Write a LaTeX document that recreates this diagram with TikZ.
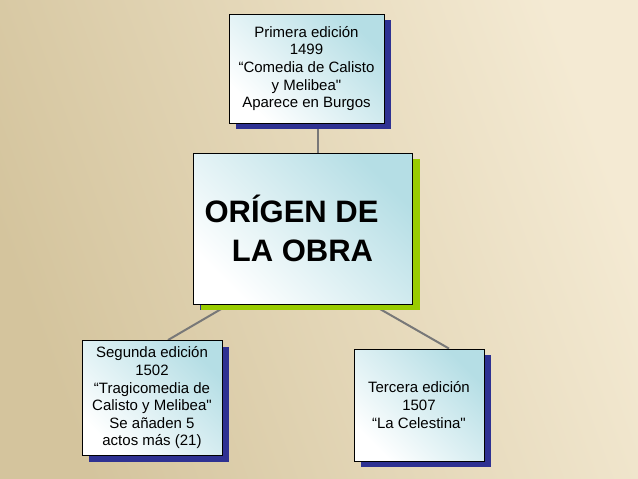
\documentclass[tikz,border=0pt]{standalone}
\usepackage{fontspec}
\setmainfont{Liberation Sans}
\newfontfamily\plainq{Liberation Sans}
\usetikzlibrary{shadows}
\definecolor{bgdark}{HTML}{D4C49D}
\definecolor{bglight}{HTML}{F4EAD3}
\definecolor{boxcyan}{HTML}{B5DEE5}
\definecolor{shblue}{HTML}{2E3192}
\definecolor{shgreen}{HTML}{99CC00}
\definecolor{linegray}{HTML}{787878}
\newcommand{\sq}{{\plainq\char34}}
\pgfdeclarelayer{bg}
\pgfdeclarelayer{lines}
\pgfsetlayers{bg,lines,main}
\begin{document}
\begin{tikzpicture}[x=1pt,y=-1pt,
  edbox/.style={draw=black, line width=0.9pt, top color=boxcyan, bottom color=white,
    shading angle=-45, inner sep=0pt, align=center,
    font=\fontsize{15}{17.6}\selectfont,
    general shadow={fill=shblue, shadow xshift=7pt, shadow yshift=-6pt}},
  mainbox/.style={edbox, font=\fontsize{31}{39}\selectfont\bfseries,
    general shadow={fill=shgreen, shadow xshift=8pt, shadow yshift=-6pt}},
  conn/.style={draw=linegray, line width=2pt}]
\useasboundingbox (0,0) rectangle (638,479);
\begin{pgfonlayer}{bg}
\shade[top color=bglight, bottom color=bgdark, shading angle=-70] (0,0) rectangle (638,479);
\end{pgfonlayer}
\node[edbox, minimum width=155pt, minimum height=109pt] (top) at (306.5,68.5)
  {Primera edición\\1499\\“Comedia de Calisto\\y Melibea\sq\\Aparece en Burgos};
\node[mainbox, minimum width=219pt, minimum height=151pt] (ctr) at (302.5,228.5)
  {\raisebox{-6pt}{ORÍGEN DE\rule{22pt}{0pt}}\\\raisebox{-6pt}{LA OBRA}};
\node[edbox, minimum width=140pt, minimum height=115pt] (left) at (152,398)
  {Segunda edición\\1502\\“Tragicomedia de\\Calisto y Melibea\sq\\Se añaden 5\\actos más (21)};
\node[edbox, minimum width=130pt, minimum height=112pt] (right) at (419,405)
  {Tercera edición\\1507\\“La Celestina\sq};
\coordinate (xt) at (318,0);
\coordinate (xl1) at (229,0);
\coordinate (xl2) at (168,0);
\coordinate (xr1) at (372,0);
\coordinate (xr2) at (449,0);
\begin{pgfonlayer}{lines}
\draw[conn] (top.south -| xt) -- (ctr.north -| xt);
\draw[conn] (ctr.south -| xl1) -- (left.north -| xl2);
\draw[conn] (ctr.south -| xr1) -- (right.north -| xr2);
\end{pgfonlayer}
\end{tikzpicture}
\end{document}
